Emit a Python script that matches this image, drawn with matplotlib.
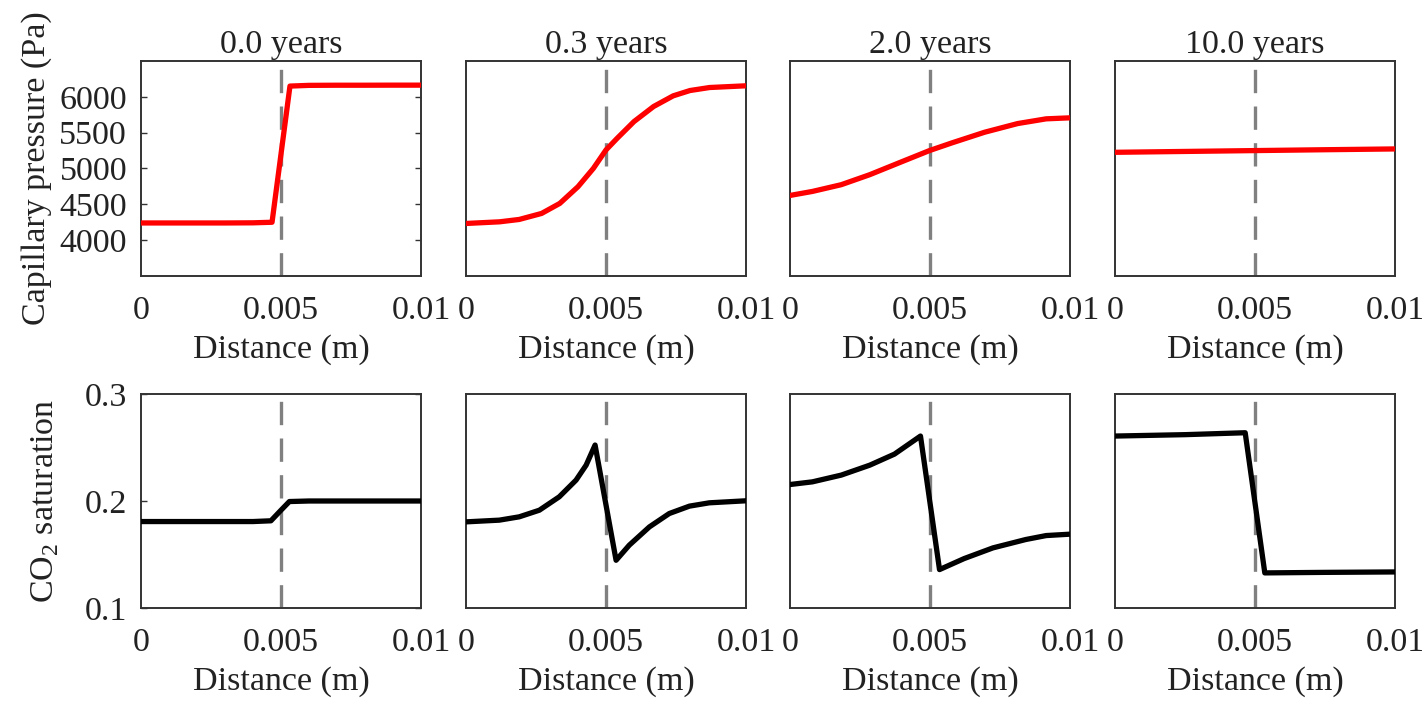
import matplotlib
matplotlib.use("Agg")
import matplotlib.pyplot as plt

plt.rcParams['font.family'] = ['Liberation Serif', 'DejaVu Serif']
plt.rcParams['mathtext.fontset'] = 'custom'
plt.rcParams['mathtext.rm'] = 'Liberation Serif'

titles = ["0.0 years", "0.3 years", "2.0 years", "10.0 years"]

# Capillary pressure (Pa)
pc_x = [
    [0.0, 0.0010, 0.0020, 0.0030, 0.0040, 0.00468, 0.00532, 0.0060, 0.0070, 0.0080, 0.0090, 0.0100],
    [0.0, 0.0012, 0.0019, 0.0027, 0.00335, 0.0040, 0.00455, 0.0050, 0.0054, 0.0060, 0.0067, 0.0074, 0.0080, 0.0087, 0.0100],
    [0.0, 0.0008, 0.00183, 0.00285, 0.00388, 0.00498, 0.00578, 0.00695, 0.00813, 0.00915, 0.0100],
    [0.0, 0.0025, 0.0050, 0.0075, 0.0100],
]
pc_y = [
    [4240, 4240, 4240, 4240, 4242, 4250, 6150, 6160, 6162, 6162, 6163, 6163],
    [4233, 4256, 4289, 4373, 4513, 4746, 5002, 5259, 5422, 5655, 5865, 6014, 6088, 6130, 6154],
    [4624, 4680, 4774, 4914, 5077, 5250, 5357, 5506, 5627, 5693, 5707],
    [5226, 5238, 5250, 5262, 5273],
]

# CO2 saturation
sat_x = [
    [0.0, 0.0020, 0.0040, 0.00464, 0.0050, 0.0053, 0.0060, 0.0080, 0.0100],
    [0.0, 0.00119, 0.0019, 0.00262, 0.00333, 0.00393, 0.00429, 0.00461, 0.00536, 0.00583, 0.00655, 0.00726, 0.00798, 0.00869, 0.0100],
    [0.0, 0.0008, 0.00183, 0.00285, 0.00373, 0.00466, 0.00534, 0.00622, 0.00725, 0.00842, 0.00915, 0.0100],
    [0.0, 0.0025, 0.00465, 0.00535, 0.0075, 0.0100],
]
sat_y = [
    [0.1808, 0.1808, 0.1808, 0.1815, 0.1914, 0.1995, 0.2000, 0.2000, 0.2000],
    [0.1805, 0.1821, 0.1852, 0.1914, 0.2039, 0.2195, 0.2335, 0.2523, 0.1446, 0.1587, 0.1758, 0.1883, 0.1952, 0.1983, 0.2002],
    [0.2154, 0.2179, 0.2242, 0.2335, 0.2438, 0.2607, 0.1359, 0.1462, 0.1562, 0.1640, 0.1677, 0.1690],
    [0.2607, 0.2620, 0.2638, 0.1328, 0.1333, 0.1337],
]

x_ticks = [0, 0.005, 0.01]
x_ticklabels = ["0", "0.005", "0.01"]
pc_ticks = [4000, 4500, 5000, 5500, 6000]
sat_ticks = [0.1, 0.2, 0.3]
sat_ticklabels = ["0.1", "0.2", "0.3"]

W, H = 1422, 706
fig = plt.figure(figsize=(W / 100, H / 100), dpi=100)

lefts = [141, 466, 790, 1115]
aw = 280
rows = [(61, 276), (394, 608)]
fs = 24.5
spine_c = '#333333'
txt_c = '#222222'

for r, (top, bot) in enumerate(rows):
    for c in range(4):
        ax = fig.add_axes([lefts[c] / W, 1 - bot / H, aw / W, (bot - top) / H])
        if r == 0:
            ax.plot(pc_x[c], pc_y[c], color='red', lw=3.8, solid_joinstyle='round', zorder=3)
            ax.set_ylim(3500, 6500)
            ax.set_title(titles[c], fontsize=fs, pad=6, color=txt_c)
            if c == 0:
                ax.set_yticks(pc_ticks)
                ax.set_yticklabels([str(t) for t in pc_ticks])
                ax.set_ylabel("Capillary pressure (Pa)", fontsize=fs, labelpad=5, color=txt_c)
            else:
                ax.set_yticks([])
        else:
            ax.plot(sat_x[c], sat_y[c], color='black', lw=3.8, solid_joinstyle='round', zorder=3)
            ax.set_ylim(0.1, 0.3)
            if c == 0:
                ax.set_yticks(sat_ticks)
                ax.set_yticklabels(sat_ticklabels)
                ax.set_ylabel("CO$_2$ saturation", fontsize=fs, labelpad=17, color=txt_c)
            else:
                ax.set_yticks([])
        ax.axvline(0.005, color='#808080', lw=2.4, dashes=(7, 4), zorder=2)
        ax.set_xlim(0, 0.01)
        ax.set_xticks(x_ticks)
        ax.set_xticklabels(x_ticklabels)
        ax.set_xlabel("Distance (m)", fontsize=fs, labelpad=6, color=txt_c)
        ax.tick_params(axis='y', direction='in', length=4, width=1, colors=spine_c,
                       labelcolor=txt_c, labelsize=fs, right=True, pad=10)
        ax.tick_params(axis='x', direction='in', length=0, labelcolor=txt_c,
                       labelsize=fs, pad=14)
        for s in ax.spines.values():
            s.set_color(spine_c)
            s.set_linewidth(1.4)

fig.savefig("out.png", dpi=100)
